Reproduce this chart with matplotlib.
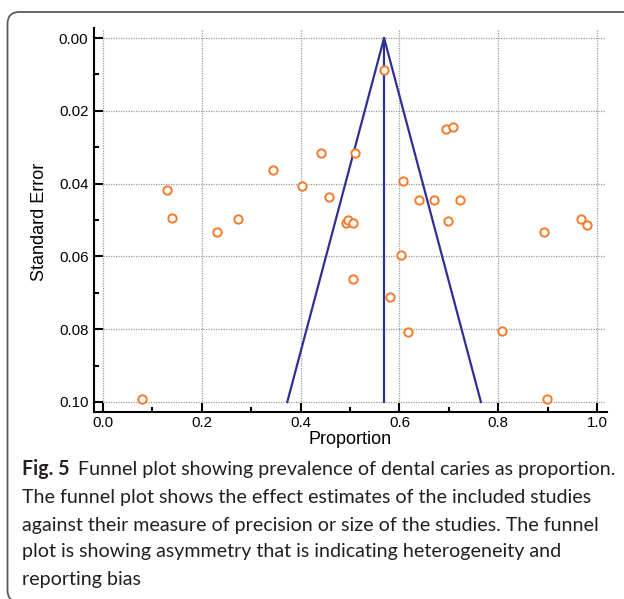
import matplotlib
matplotlib.use("Agg")
import matplotlib.pyplot as plt
from matplotlib.patches import FancyBboxPatch
import numpy as np

# ---- data ----
proportion = [0.569, 0.694, 0.709, 0.441, 0.510, 0.403, 0.607, 0.458, 0.640, 0.670,
              0.723, 0.130, 0.345, 0.140, 0.274, 0.231, 0.079, 0.491, 0.495, 0.507,
              0.699, 0.968, 0.980, 0.892, 0.603, 0.507, 0.580, 0.617, 0.808, 0.898]
std_error = [0.0088, 0.0249, 0.0244, 0.0315, 0.0315, 0.0406, 0.0393, 0.0437, 0.0445, 0.0445,
             0.0445, 0.0418, 0.0363, 0.0495, 0.0497, 0.0534, 0.0993, 0.0508, 0.0500, 0.0508,
             0.0504, 0.0497, 0.0514, 0.0534, 0.0597, 0.0663, 0.0711, 0.0808, 0.0804, 0.0993]
pooled = 0.569
se_max = 0.10
x_ticks = [0.0, 0.2, 0.4, 0.6, 0.8, 1.0]
y_ticks = [0.00, 0.02, 0.04, 0.06, 0.08, 0.10]
x_label = "Proportion"
y_label = "Standard Error"
caption_bold = "Fig. 5"
caption_lines = [
    "Funnel plot showing prevalence of dental caries as proportion.",
    "The funnel plot shows the effect estimates of the included studies",
    "against their measure of precision or size of the studies. The funnel",
    "plot is showing asymmetry that is indicating heterogeneity and",
    "reporting bias",
]

W, H = 624, 599
fig = plt.figure(figsize=(W / 100, H / 100), dpi=100)
plt.rcParams['font.family'] = ['Liberation Sans', 'DejaVu Sans']

# axes: spine-left at px 94, right at 607; top px 28, bottom px 412
ax = fig.add_axes([94 / W, (H - 412) / H, (607 - 94) / W, (412 - 28) / H])
ax.set_xlim(-0.0182, 1.0202)
ax.set_ylim(0.10275, -0.00275)

# grid
grid_kw = dict(color='#9a9a9a', lw=0.9, ls=(0, (1, 1)), zorder=1)
ax.hlines(y_ticks, 0.0, 1.016, **grid_kw)
ax.vlines(x_ticks, -0.0022, 0.10, **grid_kw)

# funnel
navy = '#2e3192'
ax.plot([pooled - 1.96 * se_max, pooled, pooled + 1.96 * se_max], [se_max, 0.0, se_max],
        color=navy, lw=1.6, zorder=2)
ax.plot([pooled, pooled], [0.0, se_max], color=navy, lw=1.6, zorder=2)

# points
ax.plot(proportion, std_error, ls='none', marker='o', ms=6, mfc='white', mec='#f7792b',
        mew=1.4, zorder=3)

for s in ['top', 'right']:
    ax.spines[s].set_visible(False)
for s in ['left', 'bottom']:
    ax.spines[s].set_linewidth(1.5)
ax.set_xticks(x_ticks)
ax.set_yticks(y_ticks)
ax.set_xticks([0.1, 0.3, 0.5, 0.7, 0.9], minor=True)
ax.set_yticks([0.01, 0.03, 0.05, 0.07, 0.09], minor=True)
ax.set_xticklabels([f"{v:.1f}" for v in x_ticks])
ax.set_yticklabels([f"{v:.2f}" for v in y_ticks])
ax.tick_params(which='major', direction='in', length=6.5, width=1.5, labelsize=10.8, pad=4)
ax.tick_params(which='minor', direction='in', length=3.8, width=1.5)
ax.tick_params(axis='x', pad=3)

fig.text(350 / W, 1 - 440 / H, x_label, ha='center', va='center', fontsize=13)
fig.text(40 / W, 1 - 222 / H, y_label, ha='center', va='center', fontsize=13, rotation=90)

# frame
frame = FancyBboxPatch((7.5, -3), 700, H - 12 + 3, boxstyle="round,pad=0,rounding_size=12",
                       transform=None, fill=False, ec='#5a5a5a', lw=1.3)
fig.add_artist(frame)

# caption
cap_font = ['Lato', 'DejaVu Sans']
cfs = 14.1
ys = [469, 498, 525, 552, 579]
tcol = '#231f20'
tb = fig.text(22 / W, 1 - ys[0] / H, caption_bold, ha='left', va='center', fontsize=cfs,
              fontweight='bold', family=cap_font, color=tcol)
fig.canvas.draw()
r = fig.canvas.get_renderer()
bb = tb.get_window_extent(r)
fig.text((bb.x1 + 8) / W, 1 - ys[0] / H, caption_lines[0], ha='left', va='center', fontsize=cfs,
         family=cap_font, color=tcol)
for y, line in zip(ys[1:], caption_lines[1:]):
    fig.text(22 / W, 1 - y / H, line, ha='left', va='center', fontsize=cfs, family=cap_font,
             color=tcol)

fig.savefig("out.png", dpi=100)
